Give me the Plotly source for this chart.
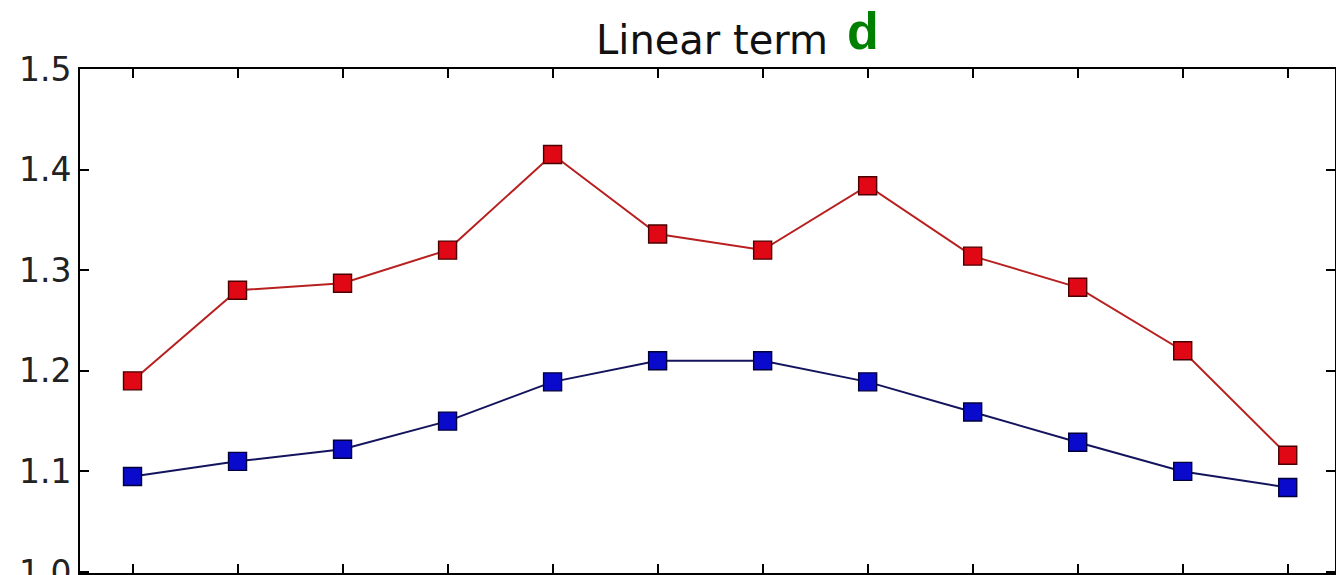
import plotly.graph_objects as go

# Twelve sample positions and the two series of the linear term
positions = list(range(1, 13))
upper_series = [1.19, 1.28, 1.287, 1.32, 1.415, 1.336, 1.32, 1.384, 1.314, 1.283, 1.22, 1.116]
lower_series = [1.095, 1.11, 1.122, 1.15, 1.189, 1.21, 1.21, 1.189, 1.159, 1.129, 1.10, 1.084]
y_ticks = [1.0, 1.1, 1.2, 1.3, 1.4, 1.5]
y_tick_text = ["1.0", "1.1", "1.2", "1.3", "1.4", "1.5"]

W, H = 1336, 575
ML, MR, MT, MB = 80, 1, 69, 2

fig = go.Figure()
fig.add_trace(go.Scatter(
    x=positions, y=upper_series, mode="lines+markers",
    line=dict(color="#b82020", width=2),
    marker=dict(symbol="square", size=18, color="#e00814",
                line=dict(color="#4a0000", width=1.4)),
    showlegend=False,
))
fig.add_trace(go.Scatter(
    x=positions, y=lower_series, mode="lines+markers",
    line=dict(color="#14145e", width=2),
    marker=dict(symbol="square", size=18, color="#0a0acc",
                line=dict(color="#00003a", width=1.4)),
    showlegend=False,
))

axis_common = dict(
    showline=True, linecolor="black", linewidth=2, mirror="ticks",
    ticks="inside", ticklen=9, tickwidth=1.5, tickcolor="black",
    showgrid=False, zeroline=False, automargin=False,
)
fig.update_xaxes(range=[0.5, 12.45], tickmode="array", tickvals=positions,
                 showticklabels=False, **axis_common)
# the lower bound sits a hair below 1.0 so the 1.0 tick stays inside the range;
# ticklabeloverflow keeps its label even though it runs past the page bottom
fig.update_yaxes(range=[0.999, 1.5], tickmode="array", tickvals=y_ticks,
                 ticktext=y_tick_text, ticklabeloverflow="allow",
                 tickfont=dict(family="DejaVu Sans", size=33, color="#222222"),
                 **axis_common)

plot_w = W - ML - MR
plot_h = H - MT - MB


def px_x(px):
    return (px - ML) / plot_w


def px_y(py):
    return (H - MB - py) / plot_h


fig.add_annotation(
    text="Linear term", xref="paper", yref="paper",
    x=px_x(712), y=px_y(40), xanchor="center", yanchor="middle",
    showarrow=False, font=dict(family="DejaVu Sans", size=40, color="#111111"),
)
fig.add_annotation(
    text="<b>d</b>", xref="paper", yref="paper",
    x=px_x(863), y=px_y(0), xanchor="center", yanchor="top",
    showarrow=False, font=dict(family="Liberation Sans", size=52, color="#008000"),
)

fig.update_layout(
    width=W, height=H,
    margin=dict(l=ML, r=MR, t=MT, b=MB, autoexpand=False),
    paper_bgcolor="white", plot_bgcolor="white",
)

fig.write_html("out.html")
